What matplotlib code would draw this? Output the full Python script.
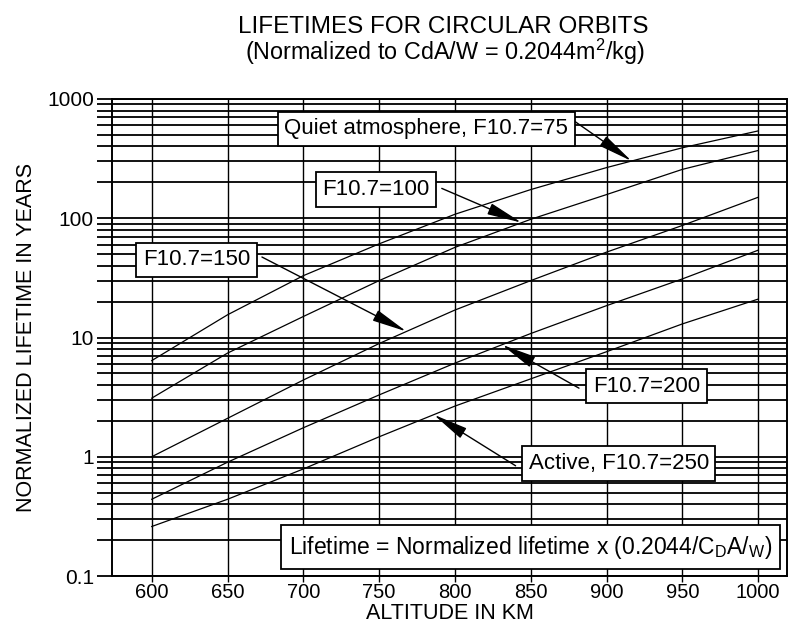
import matplotlib
matplotlib.use("Agg")
import matplotlib.pyplot as plt
import numpy as np

# values (years, normalized lifetime)
altitude = [600, 650, 700, 750, 800, 850, 900, 950, 1000]
f75 = [6.4, 15.5, 33, 61, 108, 174, 266, 390, 540]
f100 = [3.1, 7.4, 15, 30, 57, 98, 158, 257, 370]
f150 = [1.0, 2.1, 4.4, 8.9, 17, 30, 52, 87, 150]
f200 = [0.44, 0.9, 1.75, 3.3, 6.1, 10.8, 18.5, 31, 54]
f250 = [0.26, 0.44, 0.79, 1.47, 2.66, 4.5, 7.6, 13, 21]

x_ticks = [600, 650, 700, 750, 800, 850, 900, 950, 1000]
y_ticks = [0.1, 1, 10, 100, 1000]
y_tick_labels = ["0.1", "1", "10", "100", "1000"]

plt.rcParams["font.family"] = ["Liberation Sans", "DejaVu Sans"]
plt.rcParams["mathtext.fontset"] = "custom"
plt.rcParams["mathtext.rm"] = "Liberation Sans"
plt.rcParams["mathtext.it"] = "Liberation Sans:italic"

W, H = 790, 627
fig = plt.figure(figsize=(W / 100, H / 100), dpi=100)
ax = fig.add_axes([112 / W, 1 - 576 / H, (787 - 112) / W, (576 - 99) / H])


def on_curve(x, ys):
    return 10 ** np.interp(x, altitude, np.log10(ys))


ax.set_yscale("log")
ax.set_xlim(573.8, 1019)
ax.set_ylim(0.1, 1000)

for ys in (f75, f100, f150, f200, f250):
    ax.plot(altitude, ys, color="black", lw=0.9, zorder=3)

ax.set_xticks(x_ticks)
ax.set_xticklabels([str(v) for v in x_ticks], fontsize=14.5)
ax.set_yticks(y_ticks)
ax.set_yticklabels(y_tick_labels, fontsize=15)
minors = [m * 10.0 ** e for e in range(-1, 3) for m in range(2, 10)]
ax.set_yticks(minors, minor=True)
ax.yaxis.set_minor_formatter(plt.NullFormatter())

ax.grid(True, axis="y", which="both", color="black", lw=1.3)
ax.grid(True, axis="x", which="major", color="black", lw=1.0)
ax.tick_params(axis="y", which="both", direction="out", length=11, width=1.3, pad=2)
ax.tick_params(axis="x", which="major", direction="out", length=4, width=1.0, pad=1)
for s in ax.spines.values():
    s.set_linewidth(1.4)

ax.set_xlabel("ALTITUDE IN KM", fontsize=15.5, labelpad=1)
ax.set_ylabel("NORMALIZED LIFETIME IN YEARS", fontsize=15.5, labelpad=7)

fig.text(443 / W, 1 - 27 / H, "LIFETIMES FOR CIRCULAR ORBITS",
         fontsize=17.5, ha="center", va="center")
fig.text(445 / W, 1 - 52 / H,
         r"(Normalized to CdA/W = 0.2044m$^\mathregular{2}$/kg)",
         fontsize=16.8, ha="center", va="center")

box = dict(boxstyle="square,pad=0.3", fc="white", ec="black", lw=1.3)
arrow = dict(arrowstyle="-|>,head_length=1.2,head_width=0.2", color="black",
             lw=1.0, mutation_scale=18, shrinkA=0, shrinkB=0)

# (label, text center, arrow start, tip altitude, curve)
notes = [
    ("Quiet atmosphere, F10.7=75", (781, 562), (878.5, 656), 916.5, f75),
    ("F10.7=100", (748, 174), (791.3, 178), 844, f100),
    ("F10.7=150", (629.5, 44.7), (672.7, 47.3), 768, f150),
    ("F10.7=200", (926.4, 3.9), (881.8, 3.76), 831, f200),
    ("Active, F10.7=250", (908, 0.875), (840, 0.84), 786, f250),
]
for label, pos, start, tip_x, ys in notes:
    ax.annotate("", xy=(tip_x, on_curve(tip_x, ys)), xytext=start,
                arrowprops=arrow, zorder=4)
    ax.text(pos[0], pos[1], label, fontsize=16, ha="center", va="center",
            bbox=box, zorder=5)

ax.text(849.7, 0.175,
        r"Lifetime = Normalized lifetime x (0.2044/C$_\mathregular{D}$A/$_\mathregular{W}$)",
        fontsize=16.5, ha="center", va="center",
        bbox=dict(boxstyle="square,pad=0.35", fc="white", ec="black", lw=1.3),
        zorder=5)

fig.savefig("out.png", dpi=100)
